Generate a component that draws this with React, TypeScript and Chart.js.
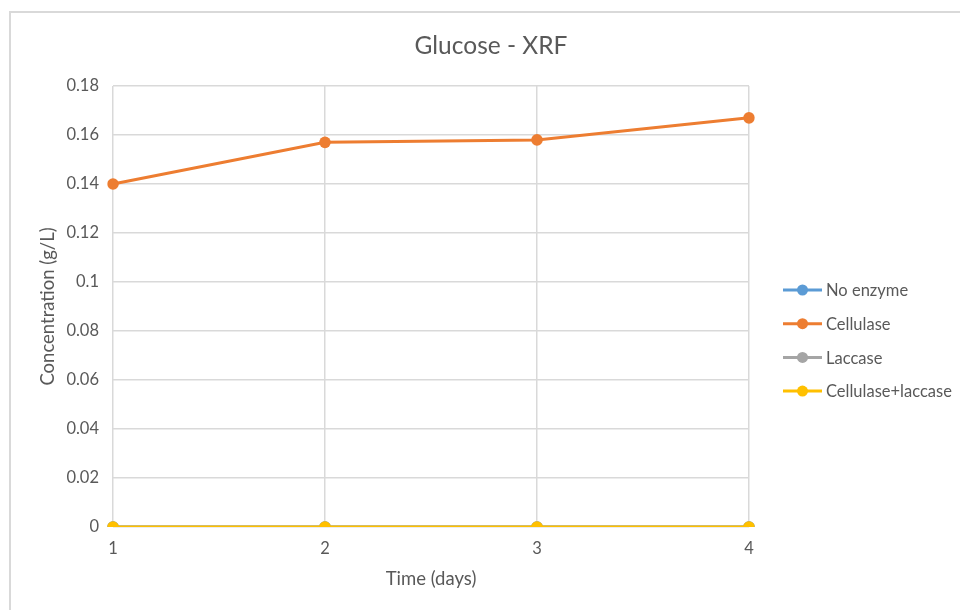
import React, { useEffect, useRef } from "react";
import { Chart, registerables } from "chart.js";

Chart.register(...registerables);

const chartTitle = "Glucose - XRF";
const xAxisTitle = "Time (days)";
const yAxisTitle = "Concentration (g/L)";
const days = ["1", "2", "3", "4"];
const noEnzyme = [0, 0, 0, 0];
const cellulase = [0.14, 0.157, 0.158, 0.167];
const laccase = [0, 0, 0, 0];
const cellulaseLaccase = [0, 0, 0, 0];
const seriesNames = ["No enzyme", "Cellulase", "Laccase", "Cellulase+laccase"];
const seriesColors = ["#5B9BD5", "#ED7D31", "#A5A5A5", "#FFC000"];
const yMin = 0;
const yMax = 0.18;
const yStep = 0.02;

const FONT = "Lato, 'Open Sans', sans-serif";
const TEXT = "#595959";
const GRID = "#d9d9d9";

const decorPlugin = {
  id: "decor",
  beforeDraw(chart: any) {
    const ctx = chart.ctx;
    ctx.save();
    ctx.fillStyle = "#ffffff";
    ctx.fillRect(0, 0, chart.width, chart.height);
    ctx.strokeStyle = GRID;
    ctx.lineWidth = 2;
    ctx.beginPath();
    ctx.moveTo(10, chart.height);
    ctx.lineTo(10, 12);
    ctx.lineTo(chart.width, 12);
    ctx.stroke();
    ctx.restore();
  },
  afterDraw(chart: any) {
    const ctx = chart.ctx;
    ctx.save();
    ctx.fillStyle = TEXT;
    ctx.font = `24.5px ${FONT}`;
    ctx.textAlign = "center";
    ctx.textBaseline = "middle";
    ctx.fillText(chartTitle, 491, 46);
    ctx.font = `16.5px ${FONT}`;
    ctx.textAlign = "left";
    chart.data.datasets.forEach((ds: any, i: number) => {
      const y = 290 + i * 33.7;
      ctx.strokeStyle = ds.borderColor;
      ctx.lineWidth = 3;
      ctx.beginPath();
      ctx.moveTo(783, y);
      ctx.lineTo(822, y);
      ctx.stroke();
      ctx.fillStyle = ds.backgroundColor;
      ctx.beginPath();
      ctx.arc(802.5, y, 5.5, 0, Math.PI * 2);
      ctx.fill();
      ctx.fillStyle = TEXT;
      ctx.fillText(ds.label, 826, y + 1);
    });
    ctx.restore();
  },
};

export default function App() {
  const ref = useRef<HTMLCanvasElement | null>(null);

  useEffect(() => {
    if (!ref.current) return;
    const values = [noEnzyme, cellulase, laccase, cellulaseLaccase];
    const chart = new Chart(ref.current, {
      type: "line",
      data: {
        labels: days,
        datasets: values.map((v, i) => ({
          label: seriesNames[i],
          data: v,
          borderColor: seriesColors[i],
          backgroundColor: seriesColors[i],
          borderWidth: 3,
          pointRadius: 5.8,
          pointBorderWidth: 0,
          pointBackgroundColor: seriesColors[i],
          tension: 0,
          order: values.length - i,
        })),
      },
      options: {
        responsive: false,
        animation: false,
        events: [],
        layout: { padding: { top: 86, right: 211, left: 0, bottom: 0 } },
        plugins: {
          legend: { display: false },
          title: { display: false },
          tooltip: { enabled: false },
        },
        scales: {
          x: {
            type: "category",
            offset: false,
            grid: { color: GRID, lineWidth: 1.5, drawTicks: false },
            border: { display: false },
            ticks: { color: TEXT, font: { family: FONT, size: 16.5 }, padding: 12 },
            title: {
              display: true,
              text: xAxisTitle,
              color: TEXT,
              font: { family: FONT, size: 18.5 },
              padding: { top: 0, bottom: 20 },
            },
            afterFit(scale: any) {
              scale.height = 83;
            },
          },
          y: {
            min: yMin,
            max: yMax,
            grid: { color: GRID, lineWidth: 1.5, drawTicks: false },
            border: { display: false },
            ticks: {
              stepSize: yStep,
              color: TEXT,
              font: { family: FONT, size: 16.5 },
              padding: 14,
              callback: (v: any) => String(Number(Number(v).toFixed(2))),
            },
            title: {
              display: true,
              text: yAxisTitle,
              color: TEXT,
              font: { family: FONT, size: 18.5 },
              padding: { top: 37, bottom: 0 },
            },
            afterFit(scale: any) {
              scale.width = 113;
            },
          },
        },
      },
      plugins: [decorPlugin],
    });
    return () => chart.destroy();
  }, []);

  return (
    <div style={{ position: "absolute", left: 0, top: 0, width: 960, height: 610 }}>
      <canvas ref={ref} width={960} height={610} />
    </div>
  );
}
